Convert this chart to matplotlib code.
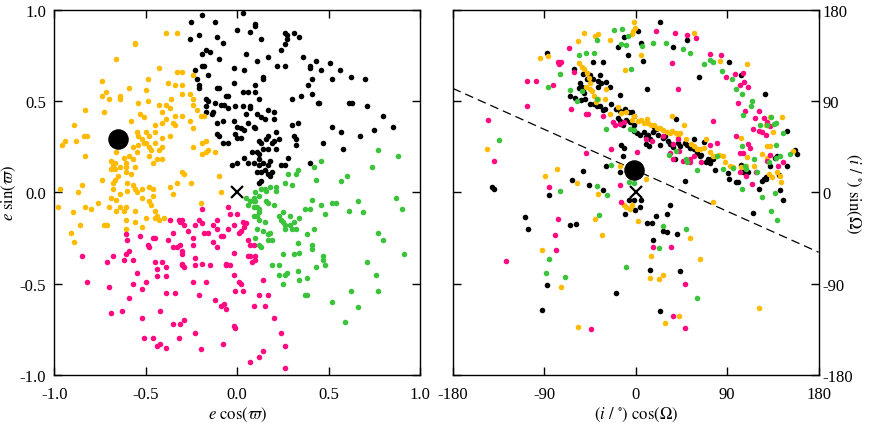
import numpy as np
import matplotlib
matplotlib.use('Agg')
import matplotlib.pyplot as plt

plt.rcParams['font.family'] = ['Liberation Serif', 'DejaVu Serif']
plt.rcParams['mathtext.fontset'] = 'stix'
plt.rcParams['axes.unicode_minus'] = False

BLACK = '#000000'
ORANGE = '#ffbb00'
PINK = '#ff0a80'
GREEN = '#3cc33c'

# ---- left panel: e cos(varpi), e sin(varpi) ----
left_black = np.array([
    (-0.19, 0.97), (0.03, 0.98), (-0.25, 0.93), (-0.12, 0.93), (0.10, 0.92), (0.10, 0.91),
    (-0.26, 0.84), (-0.21, 0.86), (-0.11, 0.85), (0.00, 0.89), (0.07, 0.88), (0.13, 0.84),
    (-0.08, 0.82), (0.26, 0.87), (0.27, 0.86), (0.31, 0.87), (0.34, 0.85), (0.27, 0.84),
    (0.26, 0.81), (0.24, 0.78), (-0.19, 0.76), (-0.17, 0.78), (-0.15, 0.77), (-0.10, 0.73),
    (0.05, 0.76), (0.11, 0.72), (0.17, 0.74), (0.36, 0.74), (0.43, 0.72), (0.40, 0.69),
    (0.40, 0.68), (0.46, 0.67), (0.51, 0.71), (0.56, 0.67), (0.62, 0.63), (0.70, 0.62),
    (0.52, 0.62), (-0.19, 0.69), (-0.18, 0.69), (-0.23, 0.67), (-0.16, 0.64), (-0.02, 0.68),
    (0.04, 0.67), (0.14, 0.63), (0.14, 0.62), (0.22, 0.69), (0.26, 0.69), (0.41, 0.62),
    (0.39, 0.59), (0.41, 0.54), (0.45, 0.49), (0.44, 0.49), (0.35, 0.53), (0.30, 0.51),
    (0.61, 0.49), (0.63, 0.49), (0.71, 0.47), (0.80, 0.42), (0.85, 0.36), (0.75, 0.34),
    (0.52, 0.36), (0.57, 0.33), (0.67, 0.31), (0.58, 0.24), (0.47, 0.27), (0.33, 0.38),
    (0.30, 0.37), (0.31, 0.31), (0.32, 0.29), (0.32, 0.26), (0.40, 0.16), (0.28, 0.19),
    (0.24, 0.15), (0.26, 0.15), (-0.22, 0.62), (-0.21, 0.59), (-0.21, 0.57), (-0.11, 0.57),
    (-0.10, 0.57), (-0.17, 0.51), (-0.16, 0.50), (-0.17, 0.47), (-0.17, 0.44), (-0.14, 0.43),
    (-0.13, 0.44), (-0.12, 0.49), (-0.09, 0.48), (-0.07, 0.48), (-0.06, 0.53), (-0.05, 0.53),
    (-0.02, 0.60), (0.03, 0.55), (0.06, 0.55), (0.10, 0.55), (0.10, 0.59), (-0.05, 0.46),
    (-0.01, 0.47), (0.03, 0.47), (0.07, 0.47), (0.07, 0.46), (0.12, 0.51), (-0.11, 0.38),
    (-0.08, 0.39), (-0.02, 0.39), (0.00, 0.36), (0.02, 0.35), (0.05, 0.43), (0.11, 0.43),
    (0.13, 0.41), (0.15, 0.40), (0.17, 0.45), (0.20, 0.44), (0.20, 0.40), (-0.11, 0.32),
    (-0.10, 0.31), (-0.05, 0.27), (-0.08, 0.27), (-0.01, 0.32), (0.00, 0.30), (0.02, 0.30),
    (0.04, 0.34), (0.06, 0.38), (0.09, 0.36), (0.10, 0.35), (0.12, 0.28), (0.13, 0.27),
    (0.16, 0.29), (0.17, 0.31), (0.19, 0.27), (0.20, 0.28), (0.23, 0.29), (0.08, 0.22),
    (0.11, 0.22), (0.12, 0.21), (0.14, 0.24), (0.17, 0.24), (0.21, 0.24), (-0.03, 0.15),
    (0.00, 0.16), (0.04, 0.19), (0.06, 0.16), (0.09, 0.16), (0.12, 0.18), (0.12, 0.15),
    (0.14, 0.16), (0.17, 0.15), (0.18, 0.17), (0.11, 0.11), (0.13, 0.11), (0.15, 0.12),
    (0.17, 0.10), (0.18, 0.09), (0.19, 0.11), (0.12, 0.05), (0.13, 0.06), (0.21, 0.33),
])

left_orange = np.array([
    (-0.39, 0.87), (-0.33, 0.87), (-0.56, 0.82), (-0.56, 0.81), (-0.66, 0.73), (-0.43, 0.68),
    (-0.33, 0.66), (-0.30, 0.66), (-0.24, 0.64), (-0.74, 0.61), (-0.72, 0.55), (-0.74, 0.53),
    (-0.70, 0.51), (-0.64, 0.53), (-0.64, 0.51), (-0.59, 0.57), (-0.49, 0.62), (-0.50, 0.56),
    (-0.49, 0.50), (-0.54, 0.49), (-0.38, 0.60), (-0.34, 0.59), (-0.30, 0.59), (-0.36, 0.51),
    (-0.43, 0.48), (-0.39, 0.48), (-0.37, 0.46), (-0.41, 0.44), (-0.30, 0.54), (-0.26, 0.54),
    (-0.24, 0.51), (-0.24, 0.48), (-0.22, 0.45), (-0.20, 0.42), (-0.18, 0.42), (-0.30, 0.42),
    (-0.34, 0.42), (-0.35, 0.38), (-0.34, 0.37), (-0.26, 0.39), (-0.24, 0.35), (-0.89, 0.37),
    (-0.83, 0.45), (-0.73, 0.44), (-0.51, 0.41), (-0.53, 0.43), (-0.58, 0.39), (-0.96, 0.26),
    (-0.94, 0.28), (-0.88, 0.28), (-0.84, 0.31), (-0.82, 0.31), (-0.83, 0.20), (-0.85, 0.04),
    (-0.87, 0.00), (-0.97, 0.02), (-0.98, -0.08), (-0.90, -0.11), (-0.91, -0.22), (-0.89, -0.27),
    (-0.86, -0.18), (-0.83, -0.08), (-0.80, -0.09), (-0.76, -0.06), (-0.74, 0.07), (-0.73, -0.18),
    (-0.71, -0.18), (-0.69, 0.17), (-0.68, 0.15), (-0.67, 0.16), (-0.69, 0.13), (-0.67, 0.13),
    (-0.64, 0.14), (-0.65, 0.09), (-0.66, 0.22), (-0.62, 0.19), (-0.59, 0.20), (-0.57, 0.18),
    (-0.61, 0.16), (-0.55, 0.33), (-0.54, 0.31), (-0.52, 0.29), (-0.51, 0.27), (-0.54, 0.26),
    (-0.57, 0.25), (-0.55, 0.22), (-0.50, 0.33), (-0.48, 0.31), (-0.50, 0.27), (-0.48, 0.25),
    (-0.47, 0.23), (-0.48, 0.20), (-0.46, 0.16), (-0.44, 0.18), (-0.41, 0.18), (-0.45, 0.37),
    (-0.41, 0.38), (-0.39, 0.40), (-0.37, 0.31), (-0.41, 0.25), (-0.43, 0.23), (-0.61, 0.14),
    (-0.61, 0.11), (-0.58, 0.10), (-0.56, 0.14), (-0.60, 0.05), (-0.57, 0.04), (-0.60, 0.01),
    (-0.68, 0.05), (-0.67, 0.07), (-0.68, 0.02), (-0.69, -0.03), (-0.66, -0.04), (-0.64, -0.01),
    (-0.70, -0.08), (-0.66, -0.10), (-0.64, -0.08), (-0.61, -0.08), (-0.62, -0.10), (-0.61, -0.15),
    (-0.61, -0.20), (-0.56, 0.02), (-0.55, 0.00), (-0.52, -0.03), (-0.56, -0.10), (-0.56, -0.16),
    (-0.50, -0.14), (-0.52, -0.19), (-0.52, 0.02), (-0.48, 0.03), (-0.46, 0.02), (-0.46, -0.02),
    (-0.48, -0.05), (-0.47, -0.07), (-0.45, -0.10), (-0.44, -0.13), (-0.45, -0.14), (-0.43, -0.15),
    (-0.40, -0.14), (-0.37, 0.03), (-0.35, -0.01), (-0.33, 0.05), (-0.29, 0.10), (-0.30, 0.11),
    (-0.25, 0.05), (-0.24, 0.25), (-0.19, 0.27), (-0.17, 0.28), (-0.19, 0.21), (-0.16, 0.23),
    (-0.17, 0.22), (-0.12, 0.22), (-0.10, 0.09), (-0.09, 0.00), (-0.20, -0.06), (-0.45, 0.33),
    (-0.41, 0.30), (-0.45, 0.27),
])

left_pink = np.array([
    (-0.85, -0.35), (-0.82, -0.49), (-0.71, -0.38), (-0.68, -0.35), (-0.70, -0.52), (-0.69, -0.66),
    (-0.63, -0.65), (-0.62, -0.37), (-0.61, -0.34), (-0.59, -0.32), (-0.61, -0.23), (-0.60, -0.26),
    (-0.57, -0.37), (-0.55, -0.44), (-0.57, -0.50), (-0.59, -0.58), (-0.52, -0.53), (-0.50, -0.49),
    (-0.52, -0.69), (-0.51, -0.80), (-0.53, -0.24), (-0.49, -0.29), (-0.48, -0.30), (-0.46, -0.25),
    (-0.45, -0.25), (-0.45, -0.38), (-0.44, -0.42), (-0.44, -0.46), (-0.41, -0.38), (-0.39, -0.41),
    (-0.39, -0.46), (-0.39, -0.55), (-0.42, -0.65), (-0.46, -0.80), (-0.44, -0.84), (-0.42, -0.83),
    (-0.39, -0.85), (-0.38, -0.26), (-0.37, -0.15), (-0.35, -0.22), (-0.35, -0.30), (-0.33, -0.30),
    (-0.32, -0.15), (-0.31, -0.16), (-0.30, -0.15), (-0.29, -0.18), (-0.31, -0.29), (-0.30, -0.32),
    (-0.30, -0.34), (-0.34, -0.55), (-0.35, -0.72), (-0.31, -0.72), (-0.29, -0.70), (-0.32, -0.80),
    (-0.30, -0.40), (-0.29, -0.41), (-0.30, -0.39), (-0.27, -0.21), (-0.24, -0.25), (-0.23, -0.18),
    (-0.24, -0.29), (-0.23, -0.36), (-0.19, -0.39), (-0.23, -0.40), (-0.24, -0.49), (-0.19, -0.09),
    (-0.21, -0.15), (-0.19, -0.17), (-0.18, -0.22), (-0.16, -0.22), (-0.17, -0.49), (-0.21, -0.56),
    (-0.23, -0.77), (-0.20, -0.86), (-0.15, -0.40), (-0.13, -0.18), (-0.11, -0.15), (-0.11, -0.20),
    (-0.13, -0.27), (-0.11, -0.30), (-0.09, -0.24), (-0.08, -0.24), (-0.12, -0.59), (-0.09, -0.62),
    (-0.07, -0.61), (-0.06, -0.64), (-0.08, -0.83), (-0.05, -0.08), (-0.04, -0.12), (-0.05, -0.20),
    (-0.02, -0.18), (0.00, -0.12), (-0.06, -0.39), (-0.04, -0.40), (-0.06, -0.40), (-0.02, -0.33),
    (-0.02, -0.45), (-0.01, -0.54), (0.01, -0.49), (0.02, -0.50), (0.03, -0.54), (-0.02, -0.73),
    (-0.01, -0.74), (0.03, -0.16), (0.04, -0.19), (0.05, -0.17), (0.02, -0.21), (0.01, -0.22),
    (0.06, -0.26), (0.07, -0.29), (0.09, -0.29), (0.06, -0.35), (0.07, -0.35), (0.10, -0.35),
    (0.08, -0.38), (0.10, -0.37), (0.14, -0.48), (0.12, -0.56), (0.17, -0.56), (0.09, -0.62),
    (0.15, -0.62), (0.20, -0.69), (0.07, -0.93), (0.12, -0.90), (0.14, -0.87), (0.24, -0.77),
    (0.26, -0.84), (0.26, -0.96),
])

left_green = np.array([
    (0.77, 0.23), (0.88, 0.20), (0.74, 0.14), (0.60, 0.09), (0.57, 0.06), (0.46, 0.17),
    (0.42, 0.14), (0.43, 0.07), (0.33, 0.12), (0.32, 0.10), (0.28, 0.10), (0.30, 0.04),
    (0.26, 0.05), (0.21, 0.03), (0.21, 0.01), (0.18, 0.03), (0.16, 0.01), (0.15, 0.02),
    (0.13, 0.02), (0.12, -0.02), (0.10, 0.00), (0.09, -0.03), (0.09, -0.04), (0.09, -0.05),
    (0.10, -0.05), (0.07, -0.05), (0.05, -0.03), (0.06, -0.07), (0.09, -0.08), (0.11, -0.08),
    (0.12, -0.11), (0.11, -0.13), (0.09, -0.13), (0.12, -0.09), (0.16, -0.05), (0.17, -0.06),
    (0.20, -0.07), (0.12, -0.15), (0.15, -0.16), (0.11, -0.20), (0.14, -0.21), (0.18, -0.22),
    (0.17, -0.23), (0.19, -0.26), (0.17, -0.26), (0.10, -0.25), (0.12, -0.29), (0.13, -0.30),
    (0.23, -0.13), (0.24, -0.15), (0.25, -0.11), (0.25, -0.16), (0.26, -0.18), (0.26, -0.20),
    (0.29, -0.18), (0.30, -0.20), (0.32, -0.20), (0.31, -0.16), (0.29, -0.13), (0.34, -0.14),
    (0.37, -0.09), (0.40, -0.09), (0.38, -0.23), (0.42, -0.20), (0.41, -0.29), (0.41, -0.31),
    (0.33, -0.28), (0.34, -0.33), (0.31, -0.34), (0.41, -0.04), (0.46, -0.07), (0.48, -0.12),
    (0.52, -0.06), (0.54, -0.06), (0.61, -0.10), (0.66, -0.05), (0.69, -0.11), (0.87, -0.03),
    (0.90, -0.09), (0.91, -0.34), (0.77, -0.22), (0.80, -0.26), (0.71, -0.38), (0.47, -0.35),
    (0.47, -0.37), (0.48, -0.40), (0.43, -0.41), (0.38, -0.47), (0.38, -0.56), (0.37, -0.56),
    (0.25, -0.34), (0.23, -0.40), (0.19, -0.40), (0.23, -0.45), (0.26, -0.45), (0.27, -0.44),
    (0.25, -0.50), (0.33, -0.43), (0.76, -0.45), (0.77, -0.54), (0.62, -0.54), (0.52, -0.60),
    (0.66, -0.63), (0.59, -0.71), (0.34, -0.48),
])

# ---- right panel: (i/deg) cos(Omega), (i/deg) sin(Omega) ----
right_black = np.array([
    (24, 168), (-87, 137), (51, 150), (2, 159), (-11, 153), (-17, 143), (5, 147), (7, 129),
    (-8, 135), (37, 143), (92, 128), (104, 116), (62, 114), (11, 102), (127, 97), (-61, 122),
    (-52, 117), (-42, 128), (-32, 128), (-55, 108), (-53, 104), (-52, 102), (-56, 103),
    (-51, 98), (-48, 112), (-45, 116), (-42, 112), (-37, 110), (-35, 116), (-34, 108),
    (-29, 109), (-25, 104), (-37, 104), (-65, 95), (-60, 93), (-54, 91), (-50, 92), (-45, 87),
    (-41, 87), (-38, 85), (-35, 85), (-32, 81), (-30, 82), (-15, 96), (-24, 87), (-19, 82),
    (-15, 80), (-10, 82), (-7, 79), (-4, 79), (-2, 75), (-17, 73), (-15, 70), (-12, 66),
    (-9, 71), (-6, 69), (-2, 66), (-2, 60), (-4, 62), (1, 58), (4, 57), (8, 59), (10, 55),
    (12, 57), (14, 53), (17, 59), (18, 64), (20, 62), (22, 57), (10, 48), (13, 46), (24, 47),
    (27, 54), (29, 56), (32, 51), (34, 48), (37, 45), (40, 72), (42, 49), (44, 46), (49, 49),
    (51, 47), (53, 44), (57, 53), (57, 43), (60, 39), (64, 37), (67, 50), (71, 33), (73, 29),
    (74, 33), (78, 22), (39, 33), (49, 11), (27, -38), (31, -39), (41, -41), (44, -78),
    (17, -47), (14, -77), (11, -30), (16, -30), (20, -23), (31, -21), (34, -12), (99, 10),
    (101, 10), (106, 20), (107, 20), (104, 27), (92, 13), (91, 19), (111, 20), (115, -20),
    (121, 3), (124, 11), (126, 13), (128, 15), (128, 13), (132, 26), (137, 34), (139, 36),
    (141, 17), (142, 2), (145, -8), (149, 26), (149, 60), (157, 42), (159, 38), (-14, 47),
    (-11, 44), (-12, 36), (-29, 26), (-52, 21), (-63, 12), (-46, 7), (-32, 2), (-15, 20),
    (-10, -21), (-1, -17), (4, -14), (5, -8), (-2, -8), (-141, 5), (-139, 3), (-109, -24),
    (-106, -36), (-85, -3), (-65, -32), (-59, -31), (-87, -91), (-92, -116), (-19, -99),
    (24, -117), (-7, -8), (63, 36), (76, 33), (69, 30),
])

right_orange = np.array([
    (-2, 168), (-51, 157), (-40, 154), (-37, 156), (-25, 150), (-57, 149), (-94, 132),
    (-86, 134), (-10, 121), (5, 135), (-4, 156), (-1, 162), (-3, 159), (57, 157), (83, 129),
    (110, 126), (104, 54), (110, 35), (-56, 127), (-53, 124), (-51, 122), (-48, 118),
    (-46, 113), (-45, 108), (-45, 102), (-49, 104), (-43, 100), (-41, 95), (-39, 89),
    (-37, 92), (-29, 102), (-30, 92), (-25, 77), (-17, 84), (-14, 78), (-9, 79), (-4, 71),
    (-2, 75), (2, 70), (5, 71), (8, 68), (11, 72), (12, 68), (15, 66), (18, 66), (21, 63),
    (24, 63), (27, 61), (31, 59), (34, 58), (36, 60), (40, 58), (42, 55), (44, 58), (48, 66),
    (50, 53), (54, 48), (57, 46), (60, 43), (63, 43), (67, 44), (69, 53), (73, 40), (76, 36),
    (79, 36), (82, 37), (86, 36), (88, 30), (93, 26), (96, 25), (104, 25), (109, 26),
    (116, 26), (124, 38), (129, 34), (131, 18), (134, 15), (139, 20), (142, 16), (143, 10),
    (144, 74), (132, 74), (128, 66), (135, 59), (129, 46), (132, 46), (155, 41), (36, 75),
    (-146, 43), (-89, 16), (-77, 23), (-58, 9), (-37, -2), (-40, -26), (-33, -42), (-4, -12),
    (-9, -14), (-6, -16), (-11, -12), (2, -28), (-15, 26), (10, 13), (53, -45), (63, -66),
    (15, -63), (14, -84), (23, -85), (27, -81), (-73, -93), (-92, -57), (-57, -133),
    (29, -129), (43, -122), (121, -114), (76, -10),
])

right_pink = np.array([
    (-145, 71), (-139, 31), (-107, 110), (-98, 110), (-107, 85), (-76, 128), (-73, 128),
    (-66, 142), (-61, 119), (-64, 82), (-49, 77), (-81, 106), (-75, 126), (-49, 39),
    (-24, 43), (1, 40), (20, 159), (39, 157), (51, 155), (59, 152), (36, 127), (42, 102),
    (73, 136), (84, 135), (89, 114), (98, 117), (106, 118), (107, 109), (103, 106), (111, 104),
    (101, 88), (108, 80), (117, 73), (121, 80), (126, 73), (129, 69), (132, 65), (121, 60),
    (124, 59), (128, 57), (115, 62), (76, 70), (99, 56), (103, 39), (106, 39), (111, 48),
    (112, 44), (103, 20), (109, 16), (114, 8), (118, 20), (129, 31), (132, 37), (140, 26),
    (145, 30), (80, 49), (73, 47), (64, 30), (53, 30), (47, 31), (57, 36), (10, 53), (16, 51),
    (27, 56), (37, 48), (42, 53), (34, 39), (43, 41), (37, 33), (53, 33), (-15, 67),
    (-11, 69), (-22, 69), (-20, 66), (-32, 75), (-47, 77), (-85, 5), (-76, -26), (-79, -42),
    (-78, -57), (-128, -68), (-44, -135), (-15, 7), (-14, -10), (17, -54), (49, -90),
    (37, -122), (49, -134), (35, -54),
])

right_green = np.array([
    (-21, 160), (-13, 161), (-8, 154), (-38, 150), (-49, 137), (-41, 137), (-56, 135),
    (-14, 146), (-9, 145), (-5, 122), (6, 144), (17, 147), (30, 147), (47, 141), (53, 137),
    (67, 126), (73, 130), (76, 128), (85, 120), (95, 112), (99, 102), (105, 97), (114, 90),
    (113, 85), (106, 76), (122, 66), (129, 66), (136, 67), (138, 68), (145, 58), (138, 47),
    (142, 36), (152, 38), (133, 74), (105, 46), (116, 33), (131, 30), (119, 20), (108, 26),
    (109, 23), (96, 24), (105, 3), (124, -5), (133, -18), (139, -27), (137, -1), (138, 34),
    (86, 23), (80, 36), (50, 33), (51, 30), (33, 37), (40, 41), (60, 22), (-74, 117),
    (-86, 104), (-65, 101), (-58, 90), (-53, 100), (-38, 92), (-29, 62), (-6, 62), (-2, 61),
    (-134, 52), (-74, 1), (-38, 6), (-36, -22), (-28, -3), (-24, 27), (-7, 10), (-2, 9),
    (-88, -79), (-85, -66), (-69, -83), (-9, -74), (27, -33), (23, -55), (50, -36), (60, -104),
])

left_big = (-0.65, 0.29)
right_big = (-2, 22)
divider_x = [-180, 180]
divider_y = [102.5, -59]


def style_axes(ax):
    ax.tick_params(direction='in', top=True, right=True, length=6, width=1,
                   labelsize=12, pad=6)
    ax.tick_params(axis='x', pad=8)
    for s in ax.spines.values():
        s.set_linewidth(1.0)


fig = plt.figure(figsize=(8.72, 4.31), dpi=100)
ax1 = fig.add_axes([0.0623, 0.1276, 0.4194, 0.8476])
ax2 = fig.add_axes([0.5191, 0.1276, 0.4197, 0.8476])

sz = 16
for pts, c in [(left_black, BLACK), (left_orange, ORANGE), (left_pink, PINK), (left_green, GREEN)]:
    ax1.scatter(pts[:, 0], pts[:, 1], s=sz, c=c, linewidths=0, zorder=2)
ax1.scatter([left_big[0]], [left_big[1]], s=190, c='k', zorder=3)
ax1.plot([0], [0], marker='x', ms=9, mew=1.6, color='k', zorder=3)
ax1.set_xlim(-1, 1)
ax1.set_ylim(-1, 1)
ax1.set_xticks([-1, -0.5, 0, 0.5, 1])
ax1.set_yticks([-1, -0.5, 0, 0.5, 1])
ax1.set_xticklabels(['-1.0', '-0.5', '0.0', '0.5', '1.0'])
ax1.set_yticklabels(['-1.0', '-0.5', '0.0', '0.5', '1.0'])
style_axes(ax1)
ax1.set_xlabel(r'$e\ \mathrm{cos}(\varpi)$', fontsize=12, labelpad=2)
ax1.set_ylabel(r'$e\ \mathrm{sin}(\varpi)$', fontsize=12, labelpad=1)

for pts, c in [(right_black, BLACK), (right_orange, ORANGE), (right_pink, PINK), (right_green, GREEN)]:
    ax2.scatter(pts[:, 0], pts[:, 1], s=sz, c=c, linewidths=0, zorder=2)
ax2.plot(divider_x, divider_y, color='k', lw=0.9, dashes=(7, 4), zorder=1)
ax2.scatter([right_big[0]], [right_big[1]], s=190, c='k', zorder=3)
ax2.plot([0], [0], marker='x', ms=9, mew=1.6, color='k', zorder=3)
ax2.set_xlim(-180, 180)
ax2.set_ylim(-180, 180)
ax2.set_xticks([-180, -90, 0, 90, 180])
ax2.set_yticks([-180, -90, 0, 90, 180])
style_axes(ax2)
ax2.yaxis.tick_right()
ax2.tick_params(axis='y', left=True, labelleft=False, labelright=True, pad=3)
ax2.yaxis.set_label_position('right')
ax2.set_xlabel(r'$(i\ /\ ^{\circ})\ \mathrm{cos}(\Omega)$', fontsize=12, labelpad=2)
ax2.set_ylabel(r'$(i\ /\ ^{\circ})\ \mathrm{sin}(\Omega)$', fontsize=12, rotation=270, labelpad=6)

fig.savefig('out.png', dpi=100)
